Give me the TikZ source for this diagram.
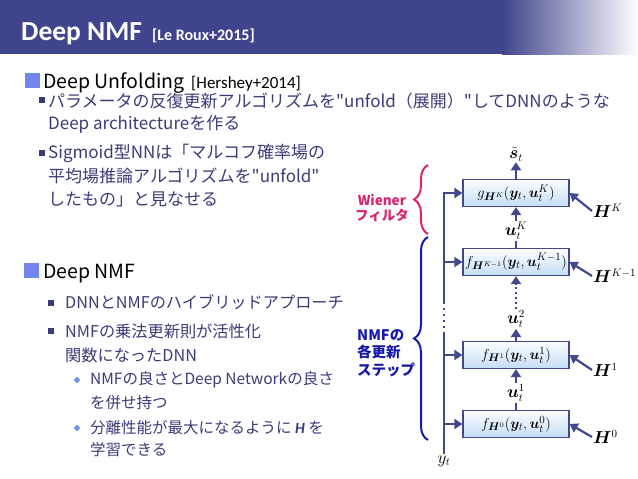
\documentclass[tikz,border=0pt]{standalone}
\usepackage{amsmath}
\usepackage{bm}
\usepackage{fontspec}
\setmainfont{Carlito}
\newfontfamily\jpfont{Noto Sans CJK JP}
\usetikzlibrary{arrows.meta,positioning,shapes.geometric,decorations.pathreplacing}
\definecolor{titlebar}{RGB}{63,68,140}
\definecolor{bulletblue}{RGB}{115,134,240}
\definecolor{bodynavy}{RGB}{58,60,120}
\definecolor{diamondblue}{RGB}{120,150,225}
\definecolor{flowblue}{RGB}{66,72,140}
\definecolor{boxtop}{RGB}{252,253,255}
\definecolor{boxbottom}{RGB}{196,222,245}
\definecolor{wienerpink}{RGB}{214,36,110}
\definecolor{stepblue}{RGB}{22,26,170}
\newcommand{\jpsize}[1]{\jpfont\fontsize{#1}{#1}\selectfont}
\tikzset{
  heading/.style={anchor=base west,inner sep=0pt,font=\jpsize{19.5},text=black},
  refnote/.style={anchor=base west,inner sep=0pt,font=\fontsize{17}{17}\selectfont,text=black},
  bodyline/.style={anchor=west,inner sep=0pt,font=\jpsize{16.2},text=bodynavy},
  wideline/.style={bodyline,font=\jpsize{17}},
  subline/.style={anchor=west,inner sep=0pt,font=\jpsize{15.5},text=bodynavy},
  sqbullet/.style={fill=bulletblue,inner sep=0pt,minimum size=15pt},
  dotbullet/.style={fill=bodynavy,inner sep=0pt,minimum size=5.5pt},
  diabullet/.style={diamond,fill=diamondblue,inner sep=0pt,minimum size=7pt},
  stage/.style={draw=flowblue,line width=1.2pt,top color=boxtop,bottom color=boxbottom,minimum width=106pt,minimum height=27pt,inner sep=1pt,font=\fontsize{15}{15}\selectfont},
  lbl/.style={inner sep=1pt,font=\fontsize{16}{16}\selectfont},
  flow/.style={-{Triangle[length=8pt,width=10pt]},draw=flowblue,line width=2.2pt},
  trunk/.style={draw=flowblue,line width=2.2pt},
  brace/.style={decorate,decoration={brace,amplitude=14pt},line width=2pt},
  braceword/.style={inner sep=0pt,font=\jpsize{14.5}\bfseries}
}

\begin{document}
\begin{tikzpicture}[x=1pt,y=-1pt]
  \useasboundingbox (0,0) rectangle (638,479);
  % title bar
  \fill[titlebar] (0,0) rectangle (502,54);
  \shade[left color=titlebar,right color=white] (502,0) rectangle (638,54);
  \node[anchor=base west,inner sep=0pt,text=white,font=\fontsize{27.5}{27.5}\selectfont\bfseries] (title) at (21,40) {Deep NMF};
  \node[anchor=base west,inner sep=0pt,text=white,font=\fontsize{16}{16}\selectfont\bfseries] (titleref) at (152,40) {[Le Roux+2015]};

  % first section
  \node[sqbullet] (sq1) at (32,80) {};
  \node[heading] (unfold) at (43,88) {Deep Unfolding};
  \node[refnote] (unfoldref) at (191,88) {[Hershey+2014]};
  \node[dotbullet] (b1) at (42,100) {};
  \node[wideline] (l1) at (48,101) {パラメータの反復更新アルゴリズムを"unfold（展開）"してDNNのような};
  \node[wideline] (l2) at (48,124) {Deep architectureを作る};
  \node[dotbullet] (b2) at (42,153) {};
  \node[wideline] (l3) at (48,153) {Sigmoid型NNは「マルコフ確率場の};
  \node[wideline] (l4) at (48,176) {平均場推論アルゴリズムを"unfold"};
  \node[wideline] (l5) at (48,199) {したもの」と見なせる};

  % second section
  \node[sqbullet] (sq2) at (31,270) {};
  \node[heading] (dnmf) at (43,278) {Deep NMF};
  \node[dotbullet] (b3) at (51,303) {};
  \node[bodyline] (m1) at (65,302) {DNNとNMFのハイブリッドアプローチ};
  \node[dotbullet] (b4) at (51,331) {};
  \node[bodyline] (m2) at (65,331) {NMFの乗法更新則が活性化};
  \node[bodyline] (m3) at (65,355) {関数になったDNN};
  \node[diabullet] (d1) at (77,380) {};
  \node[subline] (n1) at (90,380) {NMFの良さとDeep Networkの良さ};
  \node[subline] (n2) at (90,403) {を併せ持つ};
  \node[diabullet] (d2) at (77,428) {};
  \node[subline] (n3) at (90,428) {分離性能が最大になるように {\rmfamily\bfseries\itshape H} を};
  \node[subline] (n4) at (90,450) {学習できる};

  % unfolded network
  \node[stage] (gK) at (516,193) {$g_{\bm H^K}(\bm y_t,\bm u_t^K)$};
  \node[stage] (fK) at (516,262) {$f_{\bm H^{K-1}}(\bm y_t,\bm u_t^{K-1})$};
  \node[stage] (f1) at (516,355) {$f_{\bm H^1}(\bm y_t,\bm u_t^1)$};
  \node[stage] (f0) at (516,424) {$f_{\bm H^0}(\bm y_t,\bm u_t^0)$};
  \node[lbl] (st) at (516,154) {$\tilde{\bm s}_t$};
  \node[lbl] (u2) at (516,319) {$\bm u_t^2$};
  \node[lbl] (yt) at (444,461) {$y_t$};
  \node[lbl,anchor=west] (HK) at (592,211) {$\bm H^K$};
  \node[lbl,anchor=west] (HK1) at (592,276) {$\bm H^{K-1}$};
  \node[lbl,anchor=west] (H1) at (592,370) {$\bm H^1$};
  \node[lbl,anchor=west] (H0) at (592,437) {$\bm H^0$};

  \draw[flow] (gK) -- (st);
  \draw[flow] (fK) -- node[lbl,fill=white,pos=0.42]{$\bm u_t^K$} (gK);
  \draw[flow,dash pattern=on 2pt off 3pt] (u2) -- (fK);
  \draw[flow] (f1) -- (u2);
  \draw[flow] (f0) -- node[lbl,fill=white,pos=0.42]{$\bm u_t^1$} (f1);

  \draw[flow] (HK.west) -- (gK.east);
  \draw[flow] (HK1.west) -- (fK.east);
  \draw[flow] (H1.west) -- (f1.east);
  \draw[flow] (H0.west) -- (f0.east);

  % input trunk
  \coordinate (gaplo) at (444,334);
  \coordinate (gaphi) at (444,302);
  \draw[trunk] (yt.north) -- (gaplo);
  \draw[trunk,dash pattern=on 2pt off 4pt] (gaplo) -- (gaphi);
  \draw[flow] (gaphi) |- (gK.west);
  \draw[flow] (fK.west -| gaphi) -- (fK.west);
  \draw[flow] (f1.west -| gaphi) -- (f1.west);
  \draw[flow] (f0.west -| gaphi) -- (f0.west);

  % braces
  \coordinate (wienerlo) at (428,234);
  \coordinate (wienerhi) at (428,165);
  \coordinate (steplo) at (428,440);
  \coordinate (stephi) at (428,237);
  \draw[brace,wienerpink] (wienerlo) -- (wienerhi);
  \draw[brace,stepblue] (steplo) -- (stephi);
  \node[braceword,text=wienerpink,align=center,anchor=east,font=\jpsize{13.5}\bfseries] (wiener) at (409,208) {Wiener\\[2pt]フィルタ};
  \node[braceword,text=stepblue,align=left,anchor=west] (steps) at (357,353) {NMFの\\[3pt]各更新\\[3pt]ステップ};
\end{tikzpicture}
\end{document}
